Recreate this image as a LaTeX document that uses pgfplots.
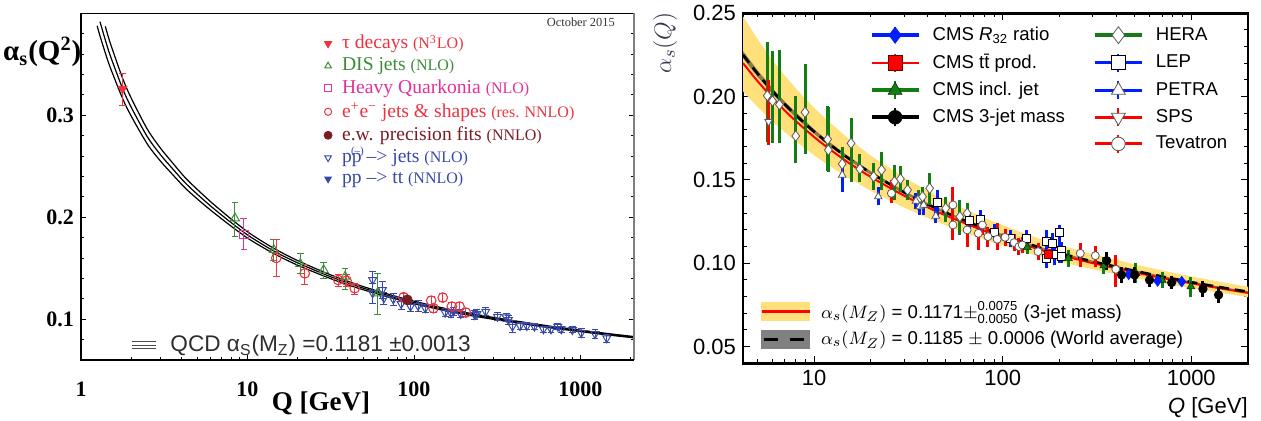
\documentclass[border=0pt]{standalone}
\usepackage{fontspec}
\usepackage{amsmath}
\usepackage{pgfplots}
\usepackage{pgfplotstable}
\pgfplotsset{compat=1.18}
\setmainfont{Liberation Serif}
\newfontfamily\helv{Liberation Sans}

% colours, left summary plot
\definecolor{lred}{RGB}{236,52,64}
\definecolor{lgreen}{RGB}{58,140,58}
\definecolor{lmag}{RGB}{226,48,156}
\definecolor{ldred}{RGB}{122,28,36}
\definecolor{lblue}{RGB}{56,72,170}
% colours, right CMS plot
\definecolor{cblue}{RGB}{0,30,255}
\definecolor{cred}{RGB}{255,0,0}
\definecolor{cgreen}{RGB}{18,125,18}
\definecolor{band}{RGB}{255,224,122}
\definecolor{ylab}{RGB}{62,52,84}
\definecolor{medge}{RGB}{90,90,90}

\newcommand\lgA{\fontsize{9.8}{10}\selectfont}
\newcommand\lgB{\fontsize{8}{8}\selectfont}
% p with a bracketed bar above (p or anti-p)
\newcommand\ppbar{p\makebox[0pt][l]{\kern-0.4pt\smash{\raisebox{0.95ex}{\fontsize{5.5}{5.5}\selectfont(–)}}}p}

% ---------- running coupling, alpha_s(M_Z)=0.1181 +- 0.0013 ----------
\pgfplotstableread{
Q lo mid hi
1.2 0.3984 0.4139 0.4303
1.25 0.3877 0.4024 0.4179
1.3 0.3779 0.3918 0.4065
1.4 0.3611 0.3738 0.3872
1.5 0.3467 0.3584 0.3707
1.777 0.3165 0.3263 0.3364
2 0.2994 0.3081 0.3171
2.5 0.2719 0.2791 0.2865
3 0.2551 0.2614 0.2678
3.5 0.2430 0.2487 0.2545
4.2 0.2291 0.2342 0.2393
5 0.2179 0.2225 0.2272
6 0.2070 0.2111 0.2153
7 0.1984 0.2021 0.2060
8 0.1911 0.1946 0.1981
10 0.1796 0.1827 0.1858
12 0.1717 0.1745 0.1773
15 0.1628 0.1653 0.1679
20 0.1530 0.1553 0.1575
30 0.1412 0.1431 0.1450
40 0.1338 0.1356 0.1373
50 0.1287 0.1303 0.1318
70 0.1218 0.1232 0.1246
91.19 0.1168 0.1181 0.1194
120 0.1122 0.1134 0.1146
150 0.1087 0.1099 0.1110
173 0.1066 0.1077 0.1088
250 0.1020 0.1030 0.1040
300 0.0999 0.1008 0.1018
500 0.0944 0.0952 0.0961
700 0.0910 0.0918 0.0926
1000 0.0878 0.0885 0.0893
1400 0.0849 0.0856 0.0863
2000 0.0821 0.0827 0.0834
2100 0.0817 0.0823 0.0830
}\qcdcurve

% ---------- measurements, left ----------
\pgfplotstableread{
Q a ep em
1.777 0.326 0.015 0.016
}\tauT
\pgfplotstableread{
Q a ep em
8.41 0.199 0.015 0.018
14.4 0.168 0.010 0.010
20.8 0.1542 0.010 0.009
28.7 0.1483 0.007 0.008
38.6 0.1418 0.008 0.013
60.4 0.1255 0.019 0.021
}\disT
\pgfplotstableread{
Q a ep em
9.52 0.1833 0.015 0.015
}\hqT
\pgfplotstableread{
Q a ep em
14.9 0.160 0.018 0.018
22.1 0.145 0.009 0.011
35.1 0.1385 0.005 0.0065
39.4 0.1378 0.006 0.006
44.1 0.1304 0.005 0.006
86.7 0.1216 0.004 0.004
127 0.1182 0.004 0.004
131 0.1108 0.004 0.004
149 0.1212 0.004 0.004
169 0.1124 0.004 0.004
188 0.1124 0.004 0.004
205 0.1065 0.004 0.004
}\eeT
\pgfplotstableread{
Q a ep em
91.19 0.119 0.002 0.002
}\ewT
\pgfplotstableread{
Q a ep em
56.5 0.1385 0.008 0.010
56.5 0.1255 0.010 0.010
64.6 0.1287 0.008 0.008
66 0.1206 0.006 0.006
75.2 0.1196 0.006 0.006
83.9 0.115 0.005 0.005
95.4 0.1124 0.005 0.005
106 0.113 0.005 0.005
117 0.1108 0.004 0.004
154 0.1065 0.004 0.004
167 0.1059 0.004 0.004
191 0.1052 0.004 0.004
232 0.1042 0.004 0.004
239 0.1052 0.004 0.004
270 0.1075 0.004 0.004
318 0.1025 0.004 0.004
358 0.1020 0.004 0.004
369 0.0993 0.004 0.004
391 0.0928 0.006 0.006
434 0.0934 0.003 0.003
477 0.0934 0.003 0.003
530 0.0928 0.003 0.003
600 0.0902 0.003 0.003
666 0.0902 0.003 0.003
732 0.0928 0.003 0.003
768 0.0902 0.003 0.003
895 0.0895 0.003 0.003
1012 0.0865 0.004 0.004
1225 0.0855 0.004 0.004
1441 0.0814 0.004 0.004
}\ppjT
\pgfplotstableread{
Q a ep em
173 0.1075 0.004 0.004
}\ppttT

% ---------- running curves, right: 3-jet mass fit (red) and world average (black) ----------
\pgfplotstableread{
Q red blk
4.2 0.2201 0.2251
5 0.2095 0.2140
6 0.1994 0.2035
7 0.1916 0.1954
8 0.1854 0.1889
10 0.1758 0.1790
12 0.1688 0.1717
15 0.1609 0.1635
20 0.1518 0.1542
30 0.1406 0.1426
40 0.1336 0.1354
50 0.1287 0.1304
70 0.1220 0.1235
91.19 0.1171 0.1185
120 0.1125 0.1138
150 0.1090 0.1102
173 0.1069 0.1080
250 0.1023 0.1033
300 0.1001 0.1011
500 0.0946 0.0955
700 0.0912 0.0921
1000 0.0880 0.0887
1400 0.0851 0.0858
2000 0.0822 0.0829
}\rcurve
% band of the fit: upper edge (0.1246) out, lower edge (0.1121) back
\pgfplotstableread{
Q a
4.2 0.2482
5 0.2348
6 0.2221
7 0.2126
8 0.2049
10 0.1933
12 0.1849
15 0.1754
20 0.1646
30 0.1515
40 0.1435
50 0.1378
70 0.1301
91.19 0.1246
120 0.1194
150 0.1155
173 0.1131
250 0.1079
300 0.1055
500 0.0994
700 0.0957
1000 0.0921
1400 0.0890
2000 0.0859
2000 0.0797
1400 0.0824
1000 0.0851
700 0.0882
500 0.0913
300 0.0964
250 0.0984
173 0.1027
150 0.1047
120 0.1079
91.19 0.1121
70 0.1165
50 0.1227
40 0.1272
30 0.1334
20 0.1435
15 0.1516
12 0.1586
10 0.1648
8 0.1732
7 0.1786
6 0.1853
5 0.1940
4.2 0.2031
}\yband
% band of the world average: 0.1191 out, 0.1179 back
\pgfplotstableread{
Q a
4.2 0.2273
5 0.2160
6 0.2052
7 0.1970
8 0.1905
10 0.1804
12 0.1730
15 0.1647
20 0.1552
30 0.1435
40 0.1362
50 0.1311
70 0.1241
91.19 0.1191
120 0.1143
150 0.1107
173 0.1085
250 0.1038
300 0.1016
500 0.0959
700 0.0924
1000 0.0891
1400 0.0861
2000 0.0832
2000 0.0826
1400 0.0855
1000 0.0884
700 0.0917
500 0.0951
300 0.1007
250 0.1029
173 0.1075
150 0.1097
120 0.1132
91.19 0.1179
70 0.1228
50 0.1297
40 0.1347
30 0.1417
20 0.1531
15 0.1624
12 0.1705
10 0.1777
8 0.1874
7 0.1938
6 0.2017
5 0.2121
4.2 0.2230
}\gband

% ---------- measurements, right ----------
\pgfplotstableread{
Q a ep em
5.65 0.2006 0.032 0.028
6.02 0.1974 0.030 0.025
6.55 0.1952 0.033 0.023
8.0 0.1764 0.024 0.016
8.96 0.1906 0.029 0.025
11.8 0.1744 0.020 0.019
11.9 0.168 0.026 0.013
14.1 0.1596 0.010 0.011
15.7 0.172 0.015 0.023
17.5 0.1566 0.009 0.008
20.7 0.152 0.008 0.008
22.8 0.156 0.011 0.012
26.7 0.149 0.010 0.011
28.7 0.1506 0.008 0.008
31.3 0.144 0.006 0.006
35.7 0.138 0.006 0.006
37.6 0.140 0.006 0.006
41.0 0.145 0.009 0.010
49.9 0.133 0.007 0.008
59.3 0.128 0.010 0.011
64.8 0.130 0.006 0.006
}\heraT
\pgfplotstableread{
Q a ep em
14.1 0.153 0.007 0.010
21.9 0.140 0.006 0.005
34.7 0.1374 0.005 0.005
36.3 0.134 0.005 0.005
38.1 0.135 0.006 0.006
44.2 0.1284 0.006 0.004
}\petraT
\pgfplotstableread{
Q a ep em
45.1 0.1366 0.0075 0.0085
66.4 0.1256 0.005 0.005
76.2 0.126 0.006 0.006
90.8 0.1186 0.005 0.0055
110 0.115 0.005 0.005
133 0.1148 0.005 0.004
170 0.113 0.007 0.016
170 0.103 0.006 0.006
183 0.112 0.006 0.006
188 0.105 0.006 0.006
200 0.1186 0.0045 0.0186
204 0.1076 0.005 0.005
204 0.104 0.004 0.004
}\lepT
\pgfplotstableread{
Q a ep em
5.74 0.185 0.025 0.014
}\spsT
\pgfplotstableread{
Q a ep em
25.7 0.142 0.008 0.006
54.5 0.135 0.011 0.021
54.5 0.123 0.008 0.008
64.8 0.120 0.010 0.010
74.3 0.118 0.008 0.010
78.1 0.123 0.006 0.006
83.6 0.116 0.006 0.006
93.5 0.1144 0.0096 0.0064
103 0.1156 0.005 0.005
115 0.1124 0.005 0.005
122 0.110 0.005 0.005
127 0.111 0.005 0.005
154 0.107 0.005 0.005
258 0.106 0.006 0.008
310 0.1046 0.006 0.0066
398 0.0964 0.0086 0.0104
}\tevT
\pgfplotstableread{
Q a ep em
174 0.1056 0.003 0.003
}\ttT
\pgfplotstableread{
Q a ep em
135 0.1096 0.004 0.004
223 0.103 0.005 0.005
344 0.0986 0.005 0.005
509 0.094 0.006 0.006
700 0.090 0.005 0.005
996 0.086 0.006 0.006
}\incT
\pgfplotstableread{
Q a ep em
466 0.0934 0.002 0.002
663 0.0894 0.002 0.002
890 0.089 0.002 0.002
}\rtT
\pgfplotstableread{
Q a ep em
356 0.1016 0.0054 0.0056
427 0.093 0.005 0.005
501 0.093 0.005 0.005
601 0.090 0.004 0.004
787 0.0884 0.004 0.004
1153 0.0846 0.005 0.005
1396 0.081 0.005 0.005
}\tjT

\pgfplotsset{
  lerr/.style={error bars/.cd, y dir=both, y explicit,
    error bar style={#1, line width=0.5pt},
    error mark options={rotate=90, #1, mark size=1.7pt, line width=0.5pt}},
  rerr/.style={error bars/.cd, y dir=both, y explicit, error mark=none,
    error bar style={#1, line width=1.5pt}},
  hollow/.style={mark options={fill=white, draw=medge, line width=0.4pt}},
}

\begin{document}
\begin{tikzpicture}
\useasboundingbox (0,0) rectangle (630.5pt,-210.5pt);

% ================= left: world summary =================
\begin{axis}[
  at={(40.5pt,-180pt)}, anchor=south west,
  scale only axis, width=276.5pt, height=173.35pt,
  xmode=log, xmin=1, xmax=2100, ymin=0.06, ymax=0.40,
  xtick={1,10,100,1000}, xticklabels={1,10,100,1000},
  minor xtick={2,3,4,5,6,7,8,9,20,30,40,50,60,70,80,90,200,300,400,500,600,700,800,900,2000},
  ytick={0.1,0.2,0.3}, yticklabels={0.1,0.2,0.3},
  minor ytick={0.08,0.12,0.14,0.16,0.18,0.22,0.24,0.26,0.28,0.32,0.34,0.36,0.38},
  xtick pos=bottom, ytick pos=both, tick align=inside,
  major tick length=2.5pt, minor tick length=1.5pt,
  tick style={black, line width=0.4pt},
  axis line style={line width=0.5pt},
  /pgf/number format/assume math mode=true,
  ticklabel style={font=\fontsize{11}{11}\selectfont\bfseries},
  xticklabel style={yshift=-7.5pt},
  xlabel={Q [GeV]},
  xlabel style={at={(axis description cs:0.434,-0.125)}, anchor=center, font=\fontsize{13.5}{14}\selectfont\bfseries},
  ylabel={α\textsubscript{s}(Q\textsuperscript{2})},
  ylabel style={at={(axis description cs:-0.07,0.888)}, anchor=center, rotate=-90, font=\fontsize{14.5}{15}\selectfont\bfseries},
  legend style={at={(axis description cs:0.428,0.955)}, anchor=north west, draw=none, fill=none,
    row sep=1.05pt, nodes={inner sep=1pt}, /tikz/every odd column/.append style={column sep=4pt}},
  legend cell align=left,
  after end axis/.code={
    \draw[gray, line width=0.8pt] (rel axis cs:1,0) -- (rel axis cs:1,1);
    \draw[black, line width=1pt] (rel axis cs:0,1) -- (rel axis cs:0,0) -- (rel axis cs:1,0);
  },
]
% QCD running with its uncertainty, three thin lines
\addplot[forget plot, black, line width=0.6pt, smooth, skip coords between index={0}{1}] table[x=Q, y=lo] {\qcdcurve};
\addplot[forget plot, black, line width=0.6pt, smooth, skip coords between index={0}{2}] table[x=Q, y=mid] {\qcdcurve};
\addplot[forget plot, black, line width=0.6pt, smooth, skip coords between index={0}{3}] table[x=Q, y=hi] {\qcdcurve};

\addplot[forget plot, only marks, mark=triangle, mark size=2.3pt, mark options={rotate=180, draw=lblue, line width=0.5pt}, lerr=lblue]
  table[x=Q, y=a, y error plus=ep, y error minus=em] {\ppjT};
\addplot[forget plot, only marks, mark=triangle*, mark size=2.3pt, mark options={rotate=180, fill=lblue, draw=lblue}, lerr=lblue]
  table[x=Q, y=a, y error plus=ep, y error minus=em] {\ppttT};
\addplot[forget plot, only marks, mark=triangle, mark size=2.6pt, mark options={draw=lgreen, line width=0.5pt}, lerr=lgreen]
  table[x=Q, y=a, y error plus=ep, y error minus=em] {\disT};
\addplot[forget plot, only marks, mark=o, mark size=2.4pt, mark options={draw=lred, line width=0.55pt}, lerr=lred]
  table[x=Q, y=a, y error plus=ep, y error minus=em] {\eeT};
\addplot[forget plot, only marks, mark=square, mark size=2.1pt, mark options={draw=lmag, line width=0.55pt}, lerr=lmag]
  table[x=Q, y=a, y error plus=ep, y error minus=em] {\hqT};
\addplot[forget plot, only marks, mark=*, mark size=2.5pt, mark options={fill=ldred, draw=ldred}, lerr=ldred]
  table[x=Q, y=a, y error plus=ep, y error minus=em] {\ewT};
\addplot[forget plot, only marks, mark=triangle*, mark size=2.6pt, mark options={rotate=180, fill=lred, draw=lred}, lerr=lred]
  table[x=Q, y=a, y error plus=ep, y error minus=em] {\tauT};

\addlegendimage{only marks, mark=triangle*, mark size=2.1pt, mark options={rotate=180, fill=lred, draw=lred}}
\addlegendentry{\textcolor{lred}{\lgA τ decays \lgB(N\textsuperscript{3}LO)}}
\addlegendimage{only marks, mark=triangle, mark size=1.9pt, mark options={draw=lgreen, line width=0.5pt}}
\addlegendentry{\textcolor{lgreen}{\lgA DIS jets \lgB(NLO)}}
\addlegendimage{only marks, mark=square, mark size=1.7pt, mark options={draw=lmag, line width=0.5pt}}
\addlegendentry{\textcolor{lmag}{\lgA Heavy Quarkonia \lgB(NLO)}}
\addlegendimage{only marks, mark=o, mark size=1.8pt, mark options={draw=lred, line width=0.5pt}}
\addlegendentry{\textcolor{lred}{\lgA e\textsuperscript{+}e\textsuperscript{−} jets \& shapes \lgB(res. NNLO)}}
\addlegendimage{only marks, mark=*, mark size=2pt, mark options={fill=ldred, draw=ldred}}
\addlegendentry{\textcolor{ldred}{\lgA e.w. precision fits \lgB(NNLO)}}
\addlegendimage{only marks, mark=triangle, mark size=1.9pt, mark options={rotate=180, draw=lblue, line width=0.5pt}}
\addlegendentry{\textcolor{lblue}{\lgA \ppbar\ –> jets \lgB(NLO)}}
\addlegendimage{only marks, mark=triangle*, mark size=1.9pt, mark options={rotate=180, fill=lblue, draw=lblue}}
\addlegendentry{\textcolor{lblue}{\lgA pp –> tt \lgB(NNLO)}}

\node[anchor=east, font=\fontsize{6.2}{7}\selectfont, text=black!80] at (axis description cs:0.978,0.975) {October 2015};
\end{axis}

% key for the QCD band
\begin{axis}[
  at={(40.5pt,-180pt)}, anchor=south west,
  scale only axis, width=276.5pt, height=173.35pt,
  xmode=log, xmin=1, xmax=2100, ymin=0.06, ymax=0.40, hide axis,
  legend style={at={(axis description cs:0.08,0.043)}, anchor=west, draw=none, fill=none,
    font=\helv\fontsize{11.3}{11.3}\selectfont, text=black!82, /tikz/every odd column/.append style={column sep=5pt}},
]
\addplot[forget plot, draw=none] table[x=Q, y=mid] {\qcdcurve};
\addlegendimage{legend image code/.code={
  \draw[black!70, line width=0.4pt] (0pt,-1.7pt) -- (12pt,-1.7pt);
  \draw[black!70, line width=0.4pt] (0pt,0pt) -- (12pt,0pt);
  \draw[black!70, line width=0.4pt] (0pt,1.7pt) -- (12pt,1.7pt);}}
\addlegendentry{QCD α\textsubscript{S}(M\textsubscript{Z}) =0.1181 ±0.0013}
\end{axis}

% ================= right: CMS 3-jet mass =================
\begin{axis}[
  at={(371.5pt,-181.65pt)}, anchor=south west,
  scale only axis, width=252.5pt, height=175pt,
  xmode=log, xmin=4.2, xmax=2000, ymin=0.04, ymax=0.25,
  xtick={10,100,1000}, xticklabels={10,100,1000},
  minor xtick={5,6,7,8,9,20,30,40,50,60,70,80,90,200,300,400,500,600,700,800,900,2000},
  ytick={0.05,0.10,0.15,0.20,0.25}, yticklabels={0.05,0.10,0.15,0.20,0.25},
  minor ytick={0.06,0.07,0.08,0.09,0.11,0.12,0.13,0.14,0.16,0.17,0.18,0.19,0.21,0.22,0.23,0.24},
  xtick pos=both, ytick pos=both, tick align=inside,
  major tick length=3.5pt, minor tick length=2pt,
  tick style={black, line width=0.5pt},
  axis line style={line width=1.4pt},
  /pgf/number format/assume math mode=true,
  ticklabel style={font=\helv\fontsize{11}{11}\selectfont},
  xlabel={\textit{Q} [GeV]},
  xlabel style={at={(axis description cs:1,-0.128)}, anchor=east, inner sep=0pt, font=\helv\fontsize{11}{11}\selectfont},
  ylabel={$\alpha_s(Q)$},
  ylabel style={at={(axis description cs:-0.154,0.915)}, anchor=center, font=\fontsize{12.5}{12.5}\selectfont, text=ylab},
  legend columns=5, transpose legend,
  legend style={at={(axis description cs:0.238,0.985)}, anchor=north west, draw=none, fill=none,
    font=\helv\fontsize{9.3}{10}\selectfont, row sep=1.25pt,
    /tikz/every odd column/.append style={column sep=4pt},
    /tikz/every even column/.append style={column sep=12pt}},
  legend cell align=left,
]
% 3-jet mass fit band and world average band
\addplot[forget plot, fill=band, draw=none] table[x=Q, y=a] {\yband};
\addplot[forget plot, fill=black, fill opacity=0.45, draw=none] table[x=Q, y=a] {\gband};
\addplot[forget plot, cred, line width=1pt, smooth] table[x=Q, y=red] {\rcurve};
\addplot[forget plot, black, line width=1.3pt, smooth, dash pattern=on 5pt off 3pt] table[x=Q, y=blk] {\rcurve};

% earlier measurements
\addplot[forget plot, only marks, mark=diamond*, mark size=2.6pt, hollow, rerr=cgreen]
  table[x=Q, y=a, y error plus=ep, y error minus=em] {\heraT};
\addplot[forget plot, only marks, mark=triangle*, mark size=2.2pt, hollow, rerr=cblue]
  table[x=Q, y=a, y error plus=ep, y error minus=em] {\petraT};
\addplot[forget plot, only marks, mark=square*, mark size=2pt, mark options={fill=white, draw=black, line width=0.5pt}, rerr=cblue]
  table[x=Q, y=a, y error plus=ep, y error minus=em] {\lepT};
\addplot[forget plot, only marks, mark=triangle*, mark size=2.2pt, mark options={rotate=180, fill=white, draw=medge, line width=0.4pt}, rerr=cred]
  table[x=Q, y=a, y error plus=ep, y error minus=em] {\spsT};
\addplot[forget plot, only marks, mark=*, mark size=2pt, hollow, rerr=cred]
  table[x=Q, y=a, y error plus=ep, y error minus=em] {\tevT};
% CMS
\addplot[forget plot, only marks, mark=square*, mark size=2pt, mark options={fill=cred, draw=black!60!red, line width=0.3pt}, rerr=cred]
  table[x=Q, y=a, y error plus=ep, y error minus=em] {\ttT};
\addplot[forget plot, only marks, mark=triangle*, mark size=2.3pt, mark options={fill=cgreen, draw=black!60!cgreen, line width=0.3pt}, rerr=cgreen]
  table[x=Q, y=a, y error plus=ep, y error minus=em] {\incT};
\addplot[forget plot, only marks, mark=diamond*, mark size=2.6pt, mark options={fill=cblue, draw=cblue}, rerr=cblue]
  table[x=Q, y=a, y error plus=ep, y error minus=em] {\rtT};
\addplot[forget plot, only marks, mark=*, mark size=2.1pt, mark options={fill=black, draw=black}, rerr=black]
  table[x=Q, y=a, y error plus=ep, y error minus=em] {\tjT};

% key, left column: CMS; right column: earlier data
\addlegendimage{legend image code/.code={
  \draw[cblue, line width=2pt] (0pt,0pt) -- (23.5pt,0pt);
  \draw[cblue, line width=1pt] (11.75pt,-4pt) -- (11.75pt,4pt);
  \draw[cblue, fill=cblue, mark=diamond*, mark size=4pt] plot coordinates {(11.75pt,0pt)};}}
\addlegendentry{CMS \textit{R}\textsubscript{32} ratio}
\addlegendimage{legend image code/.code={
  \draw[cred, line width=1.2pt] (0pt,0pt) -- (23.5pt,0pt);
  \draw[cred, line width=1pt] (11.75pt,-4.5pt) -- (11.75pt,4.5pt);
  \draw[black!60!red, fill=cred, line width=0.3pt, mark=square*, mark size=3.6pt] plot coordinates {(11.75pt,0pt)};}}
\addlegendentry{CMS t\={t} prod.}
\addlegendimage{legend image code/.code={
  \draw[cgreen, line width=2pt] (0pt,0pt) -- (23.5pt,0pt);
  \draw[cgreen, line width=1pt] (11.75pt,-4.5pt) -- (11.75pt,4.5pt);
  \draw[black!60!cgreen, fill=cgreen, line width=0.3pt, mark=triangle*, mark size=4pt] plot coordinates {(11.75pt,0pt)};}}
\addlegendentry{CMS incl. jet}
\addlegendimage{legend image code/.code={
  \draw[black, line width=2pt] (0pt,0pt) -- (23.5pt,0pt);
  \draw[black, line width=1pt] (11.75pt,-4.5pt) -- (11.75pt,4.5pt);
  \draw[black, fill=black, mark=*, mark size=3.4pt] plot coordinates {(11.75pt,0pt)};}}
\addlegendentry{CMS 3-jet mass}
\addlegendimage{empty legend}
\addlegendentry{}
\addlegendimage{legend image code/.code={
  \draw[cgreen, line width=2pt] (0pt,0pt) -- (23.5pt,0pt);
  \draw[medge, fill=white, line width=0.4pt, mark=diamond*, mark size=4.2pt] plot coordinates {(11.75pt,0pt)};}}
\addlegendentry{HERA}
\addlegendimage{legend image code/.code={
  \draw[cblue, line width=1.5pt] (0pt,0pt) -- (23.5pt,0pt);
  \draw[cblue, line width=1pt] (11.75pt,-4.5pt) -- (11.75pt,4.5pt);
  \draw[black, fill=white, line width=0.5pt, mark=square*, mark size=3.4pt] plot coordinates {(11.75pt,0pt)};}}
\addlegendentry{LEP}
\addlegendimage{legend image code/.code={
  \draw[cblue, line width=1.5pt] (0pt,0pt) -- (23.5pt,0pt);
  \draw[cblue, line width=1pt] (11.75pt,-4.5pt) -- (11.75pt,4.5pt);
  \draw[medge, fill=white, line width=0.4pt, mark=triangle*, mark size=4pt] plot coordinates {(11.75pt,0pt)};}}
\addlegendentry{PETRA}
\addlegendimage{legend image code/.code={
  \draw[cred, line width=1.5pt] (0pt,0pt) -- (23.5pt,0pt);
  \draw[cred, line width=1pt] (11.75pt,-4.5pt) -- (11.75pt,4.5pt);
  \draw[medge, fill=white, line width=0.4pt, mark=triangle*, mark size=4pt, mark options={rotate=180}] plot coordinates {(11.75pt,0pt)};}}
\addlegendentry{SPS}
\addlegendimage{legend image code/.code={
  \draw[cred, line width=1.5pt] (0pt,0pt) -- (23.5pt,0pt);
  \draw[cred, line width=1pt] (11.75pt,-4.5pt) -- (11.75pt,4.5pt);
  \draw[medge, fill=white, line width=0.4pt, mark=*, mark size=3.4pt] plot coordinates {(11.75pt,0pt)};}}
\addlegendentry{Tevatron}
\end{axis}

% key for the two running curves
\begin{axis}[
  at={(371.5pt,-181.65pt)}, anchor=south west,
  scale only axis, width=252.5pt, height=175pt,
  xmode=log, xmin=4.2, xmax=2000, ymin=0.04, ymax=0.25, hide axis,
  legend style={at={(axis description cs:0.021,0.2)}, anchor=north west, draw=none, fill=none,
    font=\helv\fontsize{9.3}{10}\selectfont, row sep=1pt,
    /tikz/every odd column/.append style={column sep=3pt}},
  legend cell align=left,
]
\addplot[forget plot, draw=none] table[x=Q, y=blk] {\rcurve};
\addlegendimage{legend image code/.code={
  \fill[band] (0pt,-4.5pt) rectangle (24pt,4.5pt);
  \draw[cred, line width=1.5pt] (0pt,0pt) -- (24pt,0pt);}}
\addlegendentry{$\alpha_s(M_Z)$ = 0.1171$\pm^{\text{0.0075}}_{\text{0.0050}}$ (3-jet mass)}
\addlegendimage{legend image code/.code={
  \fill[black!50] (0pt,-4.5pt) rectangle (24pt,4.5pt);
  \draw[black, line width=1.5pt, dash pattern=on 7pt off 6pt, dash phase=-1pt] (0pt,0pt) -- (24pt,0pt);}}
\addlegendentry{$\alpha_s(M_Z)$ = 0.1185 $\pm$ 0.0006 (World average)}
\end{axis}
\end{tikzpicture}
\end{document}
